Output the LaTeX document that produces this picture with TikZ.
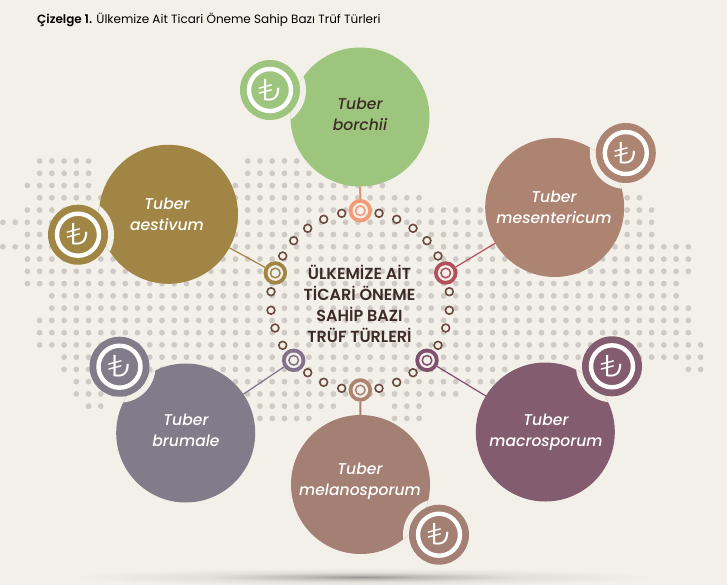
\documentclass[tikz,border=0pt]{standalone}
\usepackage{fontspec}
\setmainfont{Poppins}[ItalicFont={Poppins Medium Italic},BoldFont={Poppins SemiBold}]
\newfontfamily\liraf{Poppins Light}
\definecolor{bgc}{HTML}{F3F0E9}
\definecolor{dotc}{HTML}{CFCAC5}
\definecolor{ringc}{HTML}{6B4A40}
\definecolor{inkc}{HTML}{3D2B25}
\definecolor{cgreen}{HTML}{9EC57E}
\definecolor{colive}{HTML}{A08545}
\definecolor{cmes}{HTML}{AD8372}
\definecolor{cmac}{HTML}{845C6F}
\definecolor{cbru}{HTML}{817C89}
\definecolor{cmel}{HTML}{A37F74}
\definecolor{torange}{HTML}{F39B76}
\definecolor{tred}{HTML}{B2505D}
\definecolor{tgrey}{HTML}{83708A}
\definecolor{tplum}{HTML}{7F4F6D}
\pgfdeclareradialshading{floorshadow}{\pgfpoint{0bp}{0bp}}{color(0bp)=(black!38!bgc); color(5bp)=(black!22!bgc); color(13bp)=(black!7!bgc); color(25bp)=(bgc); color(50bp)=(bgc)}
\tikzset{
  bigc/.style={circle,minimum size=139pt,inner sep=0pt,outer sep=0pt},
  badge/.style={circle,minimum size=60pt,inner sep=0pt,outer sep=0pt},
  tgt/.style={circle,minimum size=23.5pt,inner sep=0pt,outer sep=0pt},
  smallr/.style={circle,draw=ringc,line width=1.6pt,fill=bgc,minimum size=7.8pt,inner sep=0pt},
  lbl/.style={align=center,font=\fontsize{15.6}{21}\selectfont\itshape,text=white,inner sep=0pt},
  lira/.style={font=\liraf\fontsize{30}{30}\selectfont,text=white,inner sep=0pt},
  link/.style={line width=1.2pt}
}
% name, x, y, colour
\newcommand{\tgtnode}[4]{%
  \node[tgt,fill=#4] (#1) at (#2,#3) {};
  \fill[bgc] (#1) circle (7.8pt);
  \draw[#4,line width=1.5pt] (#1) circle (4.8pt);
}
% big circle name, x, y, colour, badge name, x, y
\newcommand{\bigdisc}[7]{%
  \node[bigc,fill=#4] (#1) at (#2,#3) {};
  \begin{scope}
    \clip (#1) circle (69.5pt);
    \fill[bgc] (#6,#7) circle (36pt);
  \end{scope}
  \node[badge,fill=#4] (#5) at (#6,#7) {};
  \draw[white,line width=4.4pt] (#5) circle (21pt);
  \node[lira] at (#5) {₺};
}
\begin{document}
\begin{tikzpicture}[x=1pt,y=-1pt]
\useasboundingbox (0,0) rectangle (727,585);
\fill[bgc] (0,0) rectangle (727,585);
\shade[shading=floorshadow] (362,577) ellipse (295 and 9);
% dot map: row / first / last
\foreach \j/\a/\b in {0/3/7,0/20/24,1/3/7,1/20/25,2/2/7,2/19/31,3/3/8,3/19/34,3/45/52,
  4/2/53,5/0/53,6/2/53,7/0/56,8/2/56,9/2/56,10/2/55,11/4/55,12/4/56,13/3/56,14/3/56,
  15/3/57,16/5/57,17/5/41,17/56/57,18/6/41,19/6/37,20/7/8,20/21/27,20/32/34,21/21/25,21/32/34}{
  \foreach \k in {\a,...,\b}{
    \fill[dotc] ({2.9+12.24*\k},{161+12.26*\j}) circle (2.9pt);
  }
}
% small rings
\foreach \x/\y in {341.7/213.3,323.7/219.3,307.7/228.3,293.7/240.7,282.7/256,
  271/291.7,271/310.3,275/328,282.7/345.3,
  307.7/372.7,323.7/382.3,341.7/388.3,
  379/213.3,396.7/219.3,413/228.3,427/240.7,438/256,
  449.3/291.7,449.3/310.3,445.7/328,438/345.3,
  413/372.7,396.7/382.3,379/388.3}{
  \node[smallr] at (\x,\y) {};
}
% targets
\tgtnode{tA}{360.3}{210.7}{torange}
\tgtnode{tB}{275.3}{273}{colive}
\tgtnode{tC}{445.7}{273}{tred}
\tgtnode{tD}{293.7}{360.3}{tgrey}
\tgtnode{tE}{427}{360.3}{tplum}
\tgtnode{tF}{360.3}{390}{cmes}
% big circles with badges
\bigdisc{bor}{360}{117}{cgreen}{bbor}{270}{90}
\bigdisc{aes}{168.5}{214.3}{colive}{baes}{78}{234.7}
\bigdisc{mes}{554.7}{207.5}{cmes}{bmes}{625.8}{153}
\bigdisc{mac}{545.3}{432}{cmac}{bmac}{612}{366.3}
\bigdisc{bru}{185.7}{433}{cbru}{bbru}{119.5}{366.7}
\bigdisc{mel}{360.5}{484.5}{cmel}{bmel}{439}{534.7}
% connectors
\draw[link,line width=2pt,draw=torange!70!cmes] (bor) -- (tA);
\draw[link,draw=colive] (aes) -- (tB);
\draw[link,draw=tred] (mes) -- (tC);
\draw[link,draw=tgrey] (bru) -- (tD);
\draw[link,draw=tplum] (mac) -- (tE);
\draw[link,line width=2pt,draw=cmel] (mel) -- (tF);
% labels
\node[lbl,text=inkc] (lbor) at (360,114.5) {Tuber\\borchii};
\node[lbl] (laes) at (167,214) {Tuber\\aestivum};
\node[lbl] (lmes) at (554,207.5) {Tuber\\mesentericum};
\node[lbl] (lmac) at (546,432) {Tuber\\macrosporum};
\node[lbl] (lbru) at (186,430.5) {Tuber\\brumale};
\node[lbl] (lmel) at (360,481) {Tuber\\melanosporum};
\node[align=center,text=inkc,font=\fontsize{16}{20.8}\selectfont\bfseries,inner sep=0pt] (head) at (359.5,304) {ÜLKEMİZE AİT\\TİCARİ ÖNEME\\SAHİP BAZI\\TRÜF TÜRLERİ};
\node[anchor=west,inner sep=0pt,text=black,font=\fontsize{12}{14}\selectfont] (title) at (37,19.5) {\textbf{Çizelge 1.} Ülkemize Ait Ticari Öneme Sahip Bazı Trüf Türleri};
\end{tikzpicture}
\end{document}
